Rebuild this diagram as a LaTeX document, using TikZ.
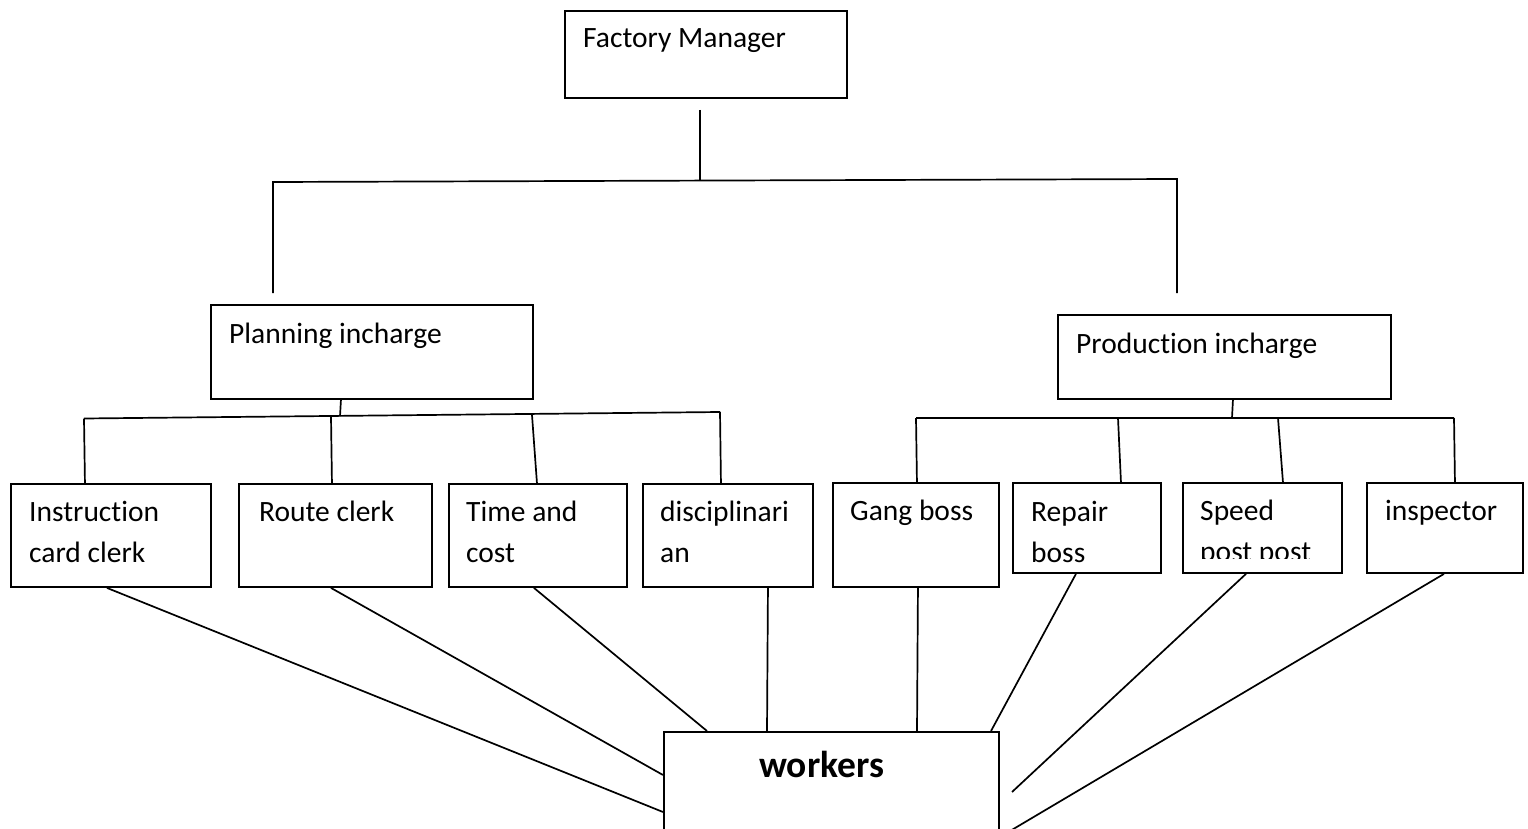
\documentclass[tikz,border=0pt]{standalone}
\usepackage{fontspec}
\setmainfont{Carlito}[Ligatures=NoCommon]
\usetikzlibrary{calc}
% two left-aligned lines, first baseline on the node's base
\newcommand\twoline[2]{\begin{tabular}[t]{@{}l@{}}#1\\#2\end{tabular}}
\begin{document}
\begin{tikzpicture}[x=1pt,y=-1pt,
  box/.style={draw,line width=1.9pt,inner sep=0pt,anchor=north west},
  lbl/.style={inner sep=0pt,anchor=base west,font=\fontsize{29.5}{41}\selectfont},
  link/.style={line width=1.7pt}]
\useasboundingbox (0,0) rectangle (1528,829);
\clip (0,0) rectangle (1528,829);

% ---- boxes ----
\node[box,minimum width=282,minimum height=87]  (fm) at (564,10)  {};
\node[box,minimum width=322,minimum height=94]  (pl) at (210,304) {};
\node[box,minimum width=333,minimum height=84]  (pr) at (1057,314) {};
\node[box,minimum width=200,minimum height=103] (b1) at (10,483)  {};
\node[box,minimum width=193,minimum height=103] (b2) at (238,483) {};
\node[box,minimum width=178,minimum height=103] (b3) at (448,483) {};
\node[box,minimum width=170,minimum height=103] (b4) at (642,483) {};
\node[box,minimum width=166,minimum height=104] (b5) at (832,482) {};
\node[box,minimum width=148,minimum height=90]  (b6) at (1012,482) {};
\node[box,minimum width=159,minimum height=90]  (b7) at (1182,482) {};
\node[box,minimum width=156,minimum height=90]  (b8) at (1366,482) {};
\node[box,minimum width=335,minimum height=140] (wk) at (663,731) {};

% ---- texts ----
\node[lbl] (t0) at (583,48)   {Factory Manager};
\node[lbl] (tp) at (229,343)  {Planning incharge};
\node[lbl] (tq) at (1076,353) {Production incharge};
\node[lbl] (t1) at (29,521)   {\twoline{Instruction}{card clerk}};
\node[lbl] (t2) at (259,521)  {Route clerk};
\node[lbl] (t3) at (466,521)  {\twoline{Time and}{cost}};
\node[lbl] (t4) at (660,521)  {\twoline{disciplinari}{an}};
\node[lbl] (t5) at (850,520)  {Gang boss};
\node[lbl] (t6) at (1031,521) {\twoline{Repair}{boss}};
\begin{scope}
  \clip (1182,482) rectangle (1341,558.5);
  \node[lbl] (t7) at (1200,520) {\twoline{Speed}{post post}};
\end{scope}
\node[lbl] (t8) at (1385,520) {inspector};
\node[inner sep=0pt,anchor=base west,font=\bfseries\fontsize{37.5}{45}\selectfont] (tw) at (759,777) {workers};

% ---- top level connectors ----
\coordinate (fmtail) at (700,110);
\coordinate (busL) at (273,182);
\coordinate (busM) at (700,181);
\coordinate (busR) at (1177,179);
\coordinate (plhead) at (273,293);
\coordinate (prhead) at (1177,293);
\draw[link] (fmtail) -- (busM);
\draw[link] (plhead) -- (busL) -- (busR) -- (prhead);

% ---- planning branch ----
\coordinate (pb1) at (84,418.5);
\coordinate (pb2) at (331,416.5);
\coordinate (pbm) at (340,416.2);
\coordinate (pb3) at (532,415);
\coordinate (pb4) at (720,412);
\draw[link] (pb1) -- (pb4);
\draw[link] ([xshift=-31]pl.south) -- (pbm);
\draw[link] (pb1) -- ([xshift=-26]b1.north);
\draw[link] (pb2) -- ([xshift=-3.5]b2.north);
\draw[link] (pb3) -- ([xshift=-1]b3.north);
\draw[link] (pb4) -- ([xshift=-7]b4.north);

% ---- production branch ----
\coordinate (qb1) at (916,418);
\coordinate (qb2) at (1118,418);
\coordinate (qbm) at (1232,418);
\coordinate (qb3) at (1278,418);
\coordinate (qb4) at (1454,418);
\draw[link] (qb1) -- (qb4);
\draw[link] ([xshift=8.5]pr.south) -- (qbm);
\draw[link] (qb1) -- ([xshift=1]b5.north);
\draw[link] (qb2) -- ([xshift=34]b6.north);
\draw[link] (qb3) -- ([xshift=20.5]b7.north);
\draw[link] (qb4) -- ([xshift=10]b8.north);

% ---- lines to workers ----
\coordinate (wr1) at (1012,792);
\coordinate (wr2) at (1010,831);
\draw[link] ([xshift=-4]b1.south)   -- ($(wk.north west)+(0,81)$);
\draw[link] ([xshift=-4.5]b2.south) -- ($(wk.north west)+(0,44)$);
\draw[link] ([xshift=-4]b3.south)   -- ($(wk.north west)+(44,0)$);
\draw[link] ([xshift=40]b4.south)   -- ($(wk.north west)+(104,0)$);
\draw[link] ([xshift=2]b5.south)    -- ($(wk.north west)+(254,0)$);
\draw[link] ([xshift=-11]b6.south)  -- ($(wk.north west)+(328,0)$);
\draw[link] ([xshift=-16.5]b7.south) -- (wr1);
\draw[link] ([xshift=-1]b8.south)   -- (wr2);
\end{tikzpicture}
\end{document}
